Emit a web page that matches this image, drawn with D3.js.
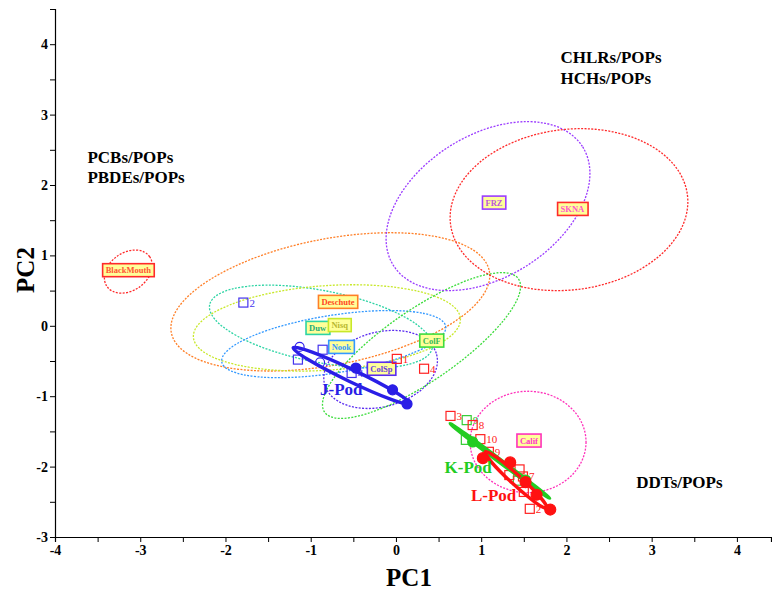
<!DOCTYPE html>
<html>
<head>
<meta charset="utf-8">
<script src="https://cdn.jsdelivr.net/npm/d3@7"></script>
<style>
html,body{margin:0;padding:0;background:#fff;}
svg{display:block;}
text{font-family:"Liberation Serif","Times New Roman",serif;font-weight:bold;}
</style>
</head>
<body>
<svg id="chart" width="772" height="590"></svg>
<script>
// ---------- DATA ----------
const xTicks = [-4, -3, -2, -1, 0, 1, 2, 3, 4];
const yTicks = [-3, -2, -1, 0, 1, 2, 3, 4];

// location confidence ellipses (dotted): name, centre PC1, centre PC2, radius PC1, radius PC2, tilt (deg)
const locNames  = ["BlackMouth", "Deschute", "Duw", "Nisq", "Nook", "ColSp", "ColF", "FRZ", "SKNA", "Calif"];
const locCx     = [-3.14, -0.77, -0.88, -0.81, -0.73, -0.18, 0.30, 1.08, 2.03, 1.55];
const locCy     = [0.77, 0.34, -0.01, -0.03, -0.26, -0.62, -0.28, 1.70, 1.65, -1.65];
const locRx     = [0.305, 1.90, 1.33, 1.57, 1.33, 0.68, 1.38, 1.31, 1.40, 0.68];
const locRy     = [0.27, 0.895, 0.51, 0.60, 0.41, 0.53, 0.51, 1.01, 1.14, 0.72];
const locTilt   = [-35, -11, 11, -4, -9, -15, -34.5, -32, -7, 0];
const locLabelX = [-3.14, -0.68, -0.92, -0.66, -0.64, -0.17, 0.42, 1.15, 2.07, 1.56];
const locLabelY = [0.79, 0.34, -0.03, 0.01, -0.30, -0.61, -0.21, 1.75, 1.66, -1.63];
const locLine   = ["#ff2a2a", "#ff7f27", "#2dd4a4", "#c8e82a", "#3399ff", "#5a2cf0", "#3ddc3d", "#9b3cff", "#ff2a2a", "#ff33bb"];
const locText   = ["#ff5533", "#ff4422", "#22aa77", "#b8b830", "#3399ff", "#6a3ce0", "#33bb55", "#bb55dd", "#ff55cc", "#ff33cc"];

// pod ellipses (solid)
const podNames  = ["J-Pod", "K-Pod", "L-Pod"];
const podCx     = [-0.52, 1.22, 1.41];
const podCy     = [-0.71, -1.92, -2.19];
const podRx     = [0.76, 0.73, 0.49];
const podRy     = [0.085, 0.02, 0.07];
const podTilt   = [25.6, 36.9, 42.6];
const podColor  = ["#2a1ee6", "#22cc22", "#ff1111"];
const podLabelX = [-0.89, 0.57, 0.88];
const podLabelY = [-0.99, -2.09, -2.49];

// pod mean points (filled)
const jDotsX = [-0.47, -0.04, 0.13];
const jDotsY = [-0.60, -0.91, -1.11];
const kDotsX = [0.90, 1.52];
const kDotsY = [-1.65, -2.19];
const lDotsX = [1.02, 1.34, 1.52, 1.65, 1.81];
const lDotsY = [-1.88, -1.94, -2.22, -2.40, -2.61];
// open circles (J-Pod)
const jOpenX = [-1.13, -0.89];
const jOpenY = [-0.30, -0.52];

// individual samples (open squares)
const jSqX = [-1.79, -1.15, -0.86, -0.52];
const jSqY = [0.33, -0.48, -0.34, -0.67];
const jSqLab = ["2", "", "", "4"];
const kSqX = [0.83, 0.82, 1.43];
const kSqY = [-1.34, -1.62, -2.20];
const kSqLab = ["9", "", ""];
const lSqX = [0.01, 0.33, 0.64, 0.90, 0.99, 1.09, 1.33, 1.45, 1.49, 1.50, 1.57];
const lSqY = [-0.47, -0.61, -1.28, -1.41, -1.61, -1.79, -2.12, -2.04, -2.14, -2.36, -2.60];
const lSqLab = ["1", "4", "3", "8", "10", "9", "", "", "7", "", "2"];

// region annotations
const noteText = ["CHLRs/POPs", "HCHs/POPs", "PCBs/POPs", "PBDEs/POPs", "DDTs/POPs"];
const noteX    = [1.93, 1.93, -3.62, -3.62, 2.82];
const noteY    = [3.73, 3.43, 2.31, 2.03, -2.30];

// ---------- CHART ----------
const svg = d3.select("#chart");
const x = d3.scaleLinear().domain([-4, 4.4]).range([55, 771]);
const y = d3.scaleLinear().domain([-3, 4.5]).range([537, 9]);

const minorX = d3.range(-4, 4.01, 0.5);
const minorY = d3.range(-3, 4.51, 0.5);

const xAxis = svg.append("g").attr("transform", "translate(0,537)")
  .call(d3.axisBottom(x).tickValues(minorX).tickSizeOuter(0).tickSize(5)
    .tickFormat(d => xTicks.includes(d) ? String(d) : ""));
const yAxis = svg.append("g").attr("transform", "translate(55,0)")
  .call(d3.axisLeft(y).tickValues(minorY).tickSizeOuter(0).tickSize(5)
    .tickFormat(d => yTicks.includes(d) ? String(d) : ""));
[xAxis, yAxis].forEach(g => {
  g.select(".domain").attr("stroke", "#000").attr("stroke-width", 1.2);
  g.selectAll(".tick line").attr("stroke", "#000").attr("stroke-width", 1);
  g.selectAll(".tick text").attr("fill", "#000").style("font-size", "14px")
    .style("font-family", "'Liberation Serif',serif").style("font-weight", "bold");
});
xAxis.selectAll(".tick text").attr("dy", "0.85em").attr("y", 6);
yAxis.selectAll(".tick text").attr("x", -7);

svg.append("text").attr("x", 409).attr("y", 586).attr("text-anchor", "middle")
  .style("font-size", "25px").text("PC1");
svg.append("text").attr("transform", "translate(34,270) rotate(-90)").attr("text-anchor", "middle")
  .style("font-size", "25px").text("PC2");

// helper ellipse drawer
function drawEllipse(g, cx, cy, rx, ry, tilt, color, opts) {
  const px = x(cx), py = y(cy);
  const prx = x(cx + rx) - px, pry = py - y(cy + ry);
  g.append("ellipse")
    .attr("transform", `translate(${px},${py}) rotate(${tilt})`)
    .attr("rx", prx).attr("ry", pry)
    .attr("fill", "none").attr("stroke", color)
    .attr("stroke-width", opts.width)
    .attr("stroke-dasharray", opts.dash || null);
}

const gEll = svg.append("g");
locNames.forEach((n, i) => drawEllipse(gEll, locCx[i], locCy[i], locRx[i], locRy[i], locTilt[i], locLine[i], {width: 1.3, dash: "2,1.4"}));

// labels with boxes
const gLab = svg.append("g");
locNames.forEach((n, i) => {
  const g = gLab.append("g").attr("transform", `translate(${x(locLabelX[i])},${y(locLabelY[i])})`);
  const t = g.append("text").attr("text-anchor", "middle").attr("dy", "0.35em")
    .style("font-size", "8.5px").attr("fill", locText[i]).text(n);
  const bb = t.node().getBBox();
  g.insert("rect", "text").attr("x", bb.x - 3).attr("y", -6.5).attr("width", bb.width + 6).attr("height", 13)
    .attr("fill", "#ffff99").attr("stroke", locLine[i]).attr("stroke-width", 1.6);
});

// squares
function squares(xs, ys, labs, color) {
  const g = svg.append("g");
  xs.forEach((v, i) => {
    g.append("rect").attr("x", x(v) - 4.5).attr("y", y(ys[i]) - 4.5).attr("width", 9).attr("height", 9)
      .attr("fill", "none").attr("stroke", color).attr("stroke-width", 1.2);
    if (labs[i]) g.append("text").attr("x", x(v) + 6).attr("y", y(ys[i]) + 4)
      .style("font-size", "11px").style("font-weight", "normal").attr("fill", color).text(labs[i]);
  });
}
squares(jSqX, jSqY, jSqLab, "#4433ee");
squares(kSqX, kSqY, kSqLab, "#33cc33");
squares(lSqX, lSqY, lSqLab, "#ff2222");

// pod ellipses
const gPod = svg.append("g");
podNames.forEach((n, i) => drawEllipse(gPod, podCx[i], podCy[i], podRx[i], podRy[i], podTilt[i], podColor[i], {width: 3.4}));

// dots
function dots(xs, ys, color, r, filled) {
  const g = svg.append("g");
  xs.forEach((v, i) => g.append("circle").attr("cx", x(v)).attr("cy", y(ys[i])).attr("r", r)
    .attr("fill", filled ? color : "none").attr("stroke", color).attr("stroke-width", 1.2));
}
dots(jOpenX, jOpenY, "#3322ee", 4.5, false);
dots(jDotsX, jDotsY, "#2a1ee6", 5, true);
dots(kDotsX, kDotsY, "#22cc22", 5, true);
dots(lDotsX, lDotsY, "#ff1111", 5.5, true);

// pod labels
podNames.forEach((n, i) => {
  svg.append("text").attr("x", x(podLabelX[i])).attr("y", y(podLabelY[i]))
    .style("font-size", "17px").attr("fill", podColor[i]).text(n);
});

// annotations
noteText.forEach((t, i) => {
  svg.append("text").attr("x", x(noteX[i])).attr("y", y(noteY[i]))
    .style("font-size", "17px").attr("fill", "#000").text(t);
});
</script>
</body>
</html>
